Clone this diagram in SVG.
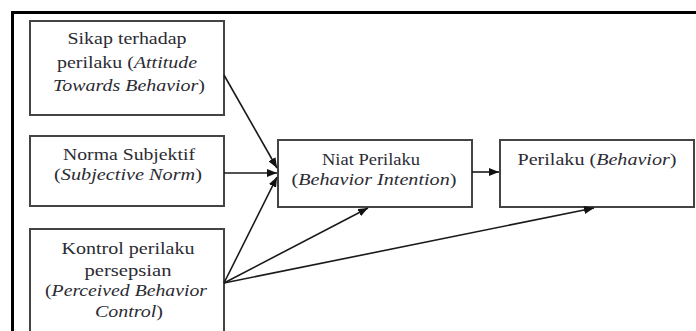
<svg xmlns="http://www.w3.org/2000/svg" width="696" height="331" viewBox="0 0 696 331">
<style>
.box{fill:#fff;stroke:#444;stroke-width:2}
.i{font-style:italic}
.c{stroke:#1a1a1a;stroke-width:1.6;fill:none;marker-end:url(#ah)}
</style>
<defs>
<marker id="ah" markerUnits="userSpaceOnUse" markerWidth="10" markerHeight="8" refX="10" refY="4" orient="auto">
<path d="M0,0 L10,4 L0,8 z" fill="#111"/>
</marker>
</defs>
<rect width="696" height="331" fill="#fff"/>
<path d="M12.5,331 V12.5 H696" fill="none" stroke="#000" stroke-width="3"/>
<g font-family="Liberation Serif, DejaVu Serif, serif" font-size="17" fill="#2b2b33" text-anchor="middle">
<g id="sikap">
<rect class="box" x="30" y="21" width="194" height="94"/>
<text x="127" y="44" textLength="119" lengthAdjust="spacingAndGlyphs">Sikap terhadap</text>
<text x="127" y="68" textLength="140" lengthAdjust="spacingAndGlyphs">perilaku (<tspan class="i">Attitude</tspan></text>
<text x="129" y="91" textLength="152" lengthAdjust="spacingAndGlyphs"><tspan class="i">Towards Behavior</tspan>)</text>
</g>
<g id="norma">
<rect class="box" x="30" y="136" width="194" height="70"/>
<text x="129" y="160" textLength="132" lengthAdjust="spacingAndGlyphs">Norma Subjektif</text>
<text x="128" y="180" textLength="148" lengthAdjust="spacingAndGlyphs">(<tspan class="i">Subjective Norm</tspan>)</text>
</g>
<g id="kontrol">
<rect class="box" x="30" y="229" width="194" height="120"/>
<text x="128" y="254" textLength="133" lengthAdjust="spacingAndGlyphs">Kontrol perilaku</text>
<text x="128" y="276" textLength="87" lengthAdjust="spacingAndGlyphs">persepsian</text>
<text x="126" y="296" textLength="162" lengthAdjust="spacingAndGlyphs">(<tspan class="i">Perceived Behavior</tspan></text>
<text x="129" y="317" textLength="68" lengthAdjust="spacingAndGlyphs"><tspan class="i">Control</tspan>)</text>
</g>
<g id="niat">
<rect class="box" x="278" y="140" width="194" height="67"/>
<text x="371" y="165" textLength="98" lengthAdjust="spacingAndGlyphs">Niat Perilaku</text>
<text x="374" y="185" textLength="165" lengthAdjust="spacingAndGlyphs">(<tspan class="i">Behavior Intention</tspan>)</text>
</g>
<g id="perilaku">
<rect class="box" x="500" y="140" width="194" height="67"/>
<text x="597" y="165" textLength="159" lengthAdjust="spacingAndGlyphs">Perilaku (<tspan class="i">Behavior</tspan>)</text>
</g>
</g>
<g id="connectors">
<line class="c" x1="224" y1="75" x2="277" y2="168"/>
<line class="c" x1="224" y1="173" x2="277" y2="173"/>
<line class="c" x1="224" y1="283" x2="277" y2="177"/>
<line class="c" x1="224" y1="283" x2="368" y2="208"/>
<line class="c" x1="224" y1="283" x2="594" y2="208"/>
<line class="c" x1="472" y1="172" x2="499" y2="172"/>
</g>
</svg>
